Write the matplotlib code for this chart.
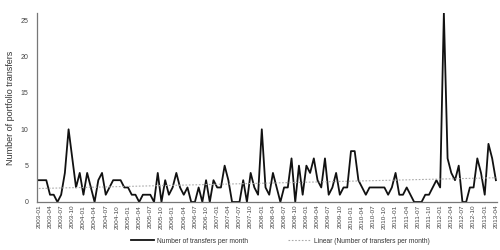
import numpy as np
import pandas as pd
import matplotlib
matplotlib.use('Agg')
import matplotlib.pyplot as plt

plt.rcParams['font.family'] = ['Liberation Sans', 'DejaVu Sans']

# monthly transfers, 2003-01 .. 2013-04
months = pd.period_range('2003-01', '2013-04', freq='M').strftime('%Y-%m').tolist()
transfers = [3, 3, 3, 1, 1, 0, 1, 4, 10, 6,
             2, 4, 1, 4, 2, 0, 3, 4, 1, 2,
             3, 3, 3, 2, 2, 1, 1, 0, 1, 1,
             1, 0, 4, 0, 3, 1, 2, 4, 2, 1,
             2, 0, 0, 2, 0, 3, 0, 3, 2, 2,
             5, 3, 0, 0, 0, 3, 0, 4, 2, 1,
             10, 2, 1, 4, 2, 0, 2, 2, 6, 0,
             5, 1, 5, 4, 6, 3, 2, 6, 1, 2,
             4, 1, 2, 2, 7, 7, 3, 2, 1, 2,
             2, 2, 2, 2, 1, 2, 4, 1, 1, 2,
             1, 0, 0, 0, 1, 1, 2, 3, 2, 26,
             6, 4, 3, 5, 0, 0, 2, 2, 6, 4,
             1, 8, 6, 3]
yticks = [0, 5, 10, 15, 20, 25]

x = np.arange(len(months))
y = np.array(transfers, dtype=float)
slope, icept = np.polyfit(x, y, 1)

fig = plt.figure(figsize=(5, 2.5), dpi=100)
ax = fig.add_axes([0.074, 0.192, 0.92, 0.756])

ax.plot(x, y, color='#111111', lw=1.3, label='Number of transfers per month')
ax.plot(x, icept + slope * x, color='#aaaaaa', lw=0.8, ls=(0, (1.5, 1.5)),
        label='Linear (Number of transfers per month)')

ax.set_xlim(-0.5, 123.3)
ax.set_ylim(0, 26)
ax.set_xticks(x[::3])
ax.set_xticklabels(months[::3], rotation=90, fontsize=4.6, color='#444444')
ax.set_yticks(yticks)
ax.tick_params(axis='y', labelsize=5, colors='#444444', length=0, pad=6)
ax.tick_params(axis='x', length=0, pad=2)
ax.set_ylabel('Number of portfolio transfers', fontsize=6.5, color='#333333', labelpad=4)

for s in ['top', 'right']:
    ax.spines[s].set_visible(False)
for s in ['left', 'bottom']:
    ax.spines[s].set_color('#777777')
    ax.spines[s].set_linewidth(0.9)

leg = fig.legend(loc='center', bbox_to_anchor=(0.56, 0.035), ncol=2, frameon=False,
                 fontsize=4.8, handlelength=3.5, columnspacing=6, handletextpad=0.4)
for t in leg.get_texts():
    t.set_color('#333333')

fig.savefig('out.png', dpi=100)
